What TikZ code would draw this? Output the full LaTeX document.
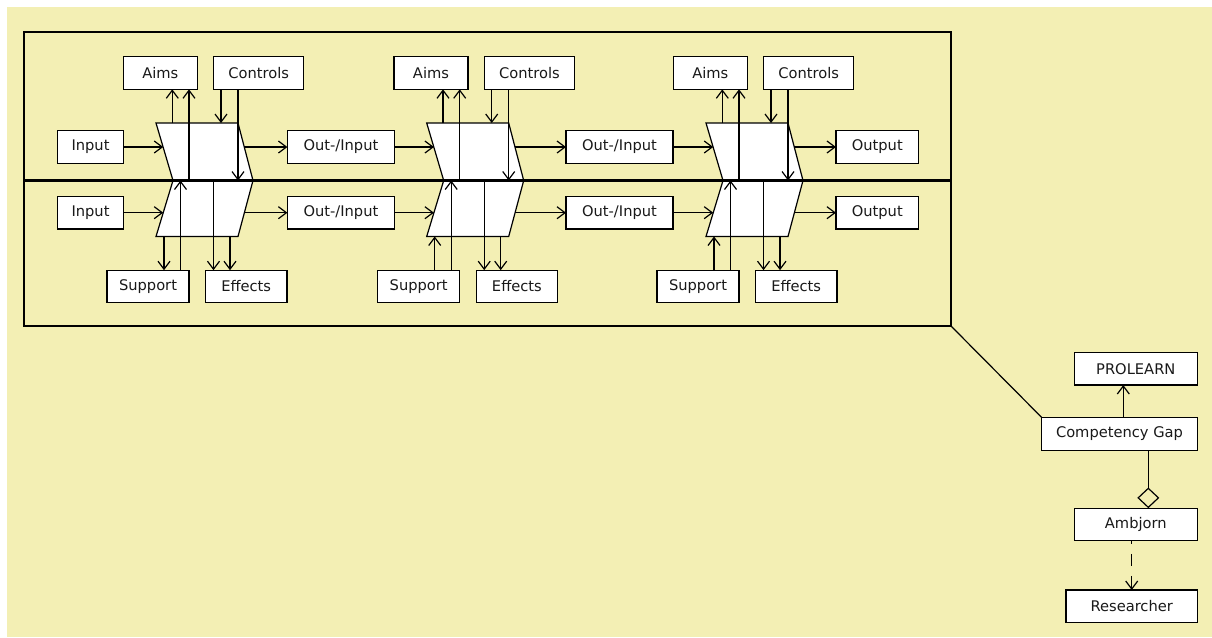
\documentclass[tikz,border=0pt]{standalone}
\usepackage{fontspec}
\setmainfont{DejaVu Sans}
\usetikzlibrary{arrows.meta}
\definecolor{bg}{RGB}{243,239,180}
\definecolor{txt}{RGB}{25,25,25}
\begin{document}
\begin{tikzpicture}[x=0.75pt,y=-0.75pt,
  box/.style={draw=black, fill=white, line width=0.9pt, inner sep=0pt, outer sep=0pt,
    minimum height=24.5pt, font=\fontsize{11}{13}\selectfont, text=txt},
  arr/.style={line width=0.9pt, -{Straight Barb[length=6pt,width=9pt,line width=0.9pt]}},
  ln/.style={line width=0.9pt},
  chev/.style={draw=black, fill=white, line width=0.9pt, line join=miter}]
\useasboundingbox (0,0) rectangle (1212,637);
\fill[bg] (7,7) rectangle (1212,637);

% frame
\node[draw=black, line width=1.4pt, inner sep=0pt, outer sep=0pt,
  minimum width=927*0.75pt, minimum height=294*0.75pt] (frame) at (487.5,179) {};
\coordinate (midy) at (0,180.5);

% row boxes
\node[box, minimum width=65.6*0.75pt] (in1) at (90.5,147) {Input};
\node[box, minimum width=65.6*0.75pt] (in2) at (90.5,212.7) {Input};
\node[box, minimum width=107*0.75pt] (oi1) at (340.9,147) {Out-/Input};
\node[box, minimum width=107*0.75pt] (oi2) at (340.9,212.7) {Out-/Input};
\node[box, minimum width=107*0.75pt] (oi3) at (619.5,147) {Out-/Input};
\node[box, minimum width=107*0.75pt] (oi4) at (619.5,212.7) {Out-/Input};
\node[box, minimum width=82.7*0.75pt] (out1) at (877.3,147) {Output};
\node[box, minimum width=82.7*0.75pt] (out2) at (877.3,212.7) {Output};

\foreach \m/\X in {1/156,2/426.7,3/706}{
  \coordinate (m\m-tl) at (\X,123);
  \coordinate (m\m-tr) at (\X+82,123);
  \coordinate (m\m-r) at (\X+97,180.5);
  \coordinate (m\m-br) at (\X+82,236.5);
  \coordinate (m\m-bl) at (\X,236.5);
  \coordinate (m\m-l) at (\X+17,180.5);
  \coordinate (m\m-it) at (\X+7.2,147);
  \coordinate (m\m-ib) at (\X+7.2,212.7);
  \coordinate (m\m-ot) at (\X+88.3,147);
  \coordinate (m\m-ob) at (\X+88.3,212.7);
  \coordinate (m\m-a1) at (\X+16.3,123);
  \coordinate (m\m-a2) at (\X+33,180.5);
  \coordinate (m\m-c1) at (\X+65,123);
  \coordinate (m\m-c2) at (\X+82,180.5);
  \coordinate (m\m-s1) at (\X+8,236.5);
  \coordinate (m\m-s2) at (\X+24.5,180.5);
  \coordinate (m\m-e1) at (\X+57.5,180.5);
  \coordinate (m\m-e2) at (\X+74,236.5);
  \node[box, minimum width=74*0.75pt] (aims\m) at (\X+4.3,73) {Aims};
  \node[box, minimum width=90*0.75pt] (ctrl\m) at (\X+102.7,73) {Controls};
  \node[box, minimum width=82*0.75pt] (sup\m) at (\X-8,286.5) {Support};
  \node[box, minimum width=81.5*0.75pt] (eff\m) at (\X+90.2,286.5) {Effects};
  \draw[chev] (m\m-tl) -- (m\m-tr) -- (m\m-r) -- (m\m-br) -- (m\m-bl) -- (m\m-l) -- cycle;
  \draw[arr] (m\m-a1) -- (m\m-a1 |- aims\m.south);
  \draw[arr] (m\m-a2) -- (m\m-a2 |- aims\m.south);
  \draw[arr] (m\m-c1 |- ctrl\m.south) -- (m\m-c1);
  \draw[arr] (m\m-c2 |- ctrl\m.south) -- (m\m-c2);
  \ifnum\m=1
    \draw[arr] (m\m-s1) -- (m\m-s1 |- sup\m.north);
  \else
    \draw[arr] (m\m-s1 |- sup\m.north) -- (m\m-s1);
  \fi
  \draw[arr] (m\m-s2 |- sup\m.north) -- (m\m-s2);
  \draw[arr] (m\m-e1) -- (m\m-e1 |- eff\m.north);
  \draw[arr] (m\m-e2) -- (m\m-e2 |- eff\m.north);
}

% midline
\draw[line width=2pt] (frame.west |- midy) -- (frame.east |- midy);

% horizontal flow
\draw[arr] (in1.east) -- (m1-it);
\draw[arr] (in2.east) -- (m1-ib);
\draw[arr] (m1-ot) -- (oi1.west);
\draw[arr] (m1-ob) -- (oi2.west);
\draw[arr] (oi1.east) -- (m2-it);
\draw[arr] (oi2.east) -- (m2-ib);
\draw[arr] (m2-ot) -- (oi3.west);
\draw[arr] (m2-ob) -- (oi4.west);
\draw[arr] (oi3.east) -- (m3-it);
\draw[arr] (oi4.east) -- (m3-ib);
\draw[arr] (m3-ot) -- (out1.west);
\draw[arr] (m3-ob) -- (out2.west);

% right side
\node[box, minimum width=123*0.75pt] (prolearn) at (1135.8,368.7) {PROLEARN};
\node[box, minimum width=155.6*0.75pt] (gap) at (1119.5,433.8) {Competency Gap};
\node[box, minimum width=123*0.75pt] (amb) at (1135.8,524.5) {Ambjorn};
\node[box, minimum width=131.3*0.75pt] (res) at (1131.7,606.3) {Researcher};
\coordinate (gx1) at (1123.3,0);
\coordinate (gx2) at (1148.3,0);
\coordinate (ax1) at (1131.7,0);
\draw[ln] (frame.south east) -- (gap.north west);
\draw[arr] (gap.north -| gx1) -- (prolearn.south -| gx1);
\draw[line width=0.9pt, -{Diamond[open, length=15.5pt, width=16.5pt, line width=0.9pt]}]
  (gap.south -| gx2) -- (amb.north -| gx2);
\draw[arr, dash pattern=on 9pt off 7.5pt, dash phase=6.75pt] (amb.south -| ax1) -- (res.north -| ax1);
\end{tikzpicture}
\end{document}
